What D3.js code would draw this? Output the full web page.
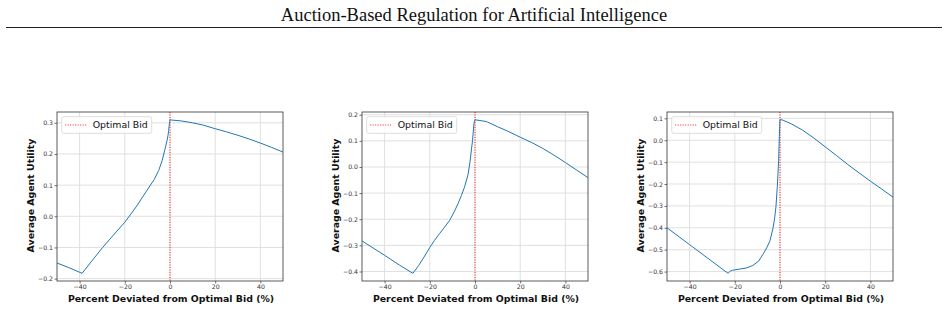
<!DOCTYPE html>
<html>
<head>
<meta charset="utf-8">
<script src="https://cdn.jsdelivr.net/npm/d3@7"></script>
<style>
  body { margin: 0; background: #fff; }
  svg { display: block; }
</style>
</head>
<body>
<svg id="chart" width="948" height="310"></svg>
<script>
const pageTitle = "Auction-Based Regulation for Artificial Intelligence";
const xLabel = "Percent Deviated from Optimal Bid (%)";
const yLabel = "Average Agent Utility";
const legendLabel = "Optimal Bid";
const xTicks = [-40, -20, 0, 20, 40];

// panel 1
const devA = [-50, -45, -38.9, -35, -29.8, -25, -20, -15, -10.2, -7, -5, -3.5, -2.4, -1.8, -1.3, -0.9, -0.6, -0.3, -0.1, 0, 0.5, 5, 10, 15, 20, 25, 30, 35, 40, 45, 50];
const utilA = [-0.150, -0.164, -0.183, -0.147, -0.100, -0.060, -0.019, 0.030, 0.083, 0.118, 0.147, 0.178, 0.210, 0.228, 0.243, 0.258, 0.275, 0.295, 0.305, 0.310, 0.309, 0.306, 0.300, 0.292, 0.281, 0.271, 0.260, 0.248, 0.235, 0.221, 0.206];
const yTicksA = [-0.2, -0.1, 0.0, 0.1, 0.2, 0.3];

// panel 2
const devB = [-50, -40, -33.5, -27.5, -25, -22, -20, -18, -15.7, -13.5, -11.2, -9, -7.5, -6, -4.6, -3.1, -2.2, -1.6, -1.1, -0.7, -0.4, -0.1, 0, 0.5, 5, 10, 15, 20, 25, 30, 35, 40, 45, 50];
const utilB = [-0.283, -0.338, -0.375, -0.407, -0.378, -0.337, -0.308, -0.282, -0.255, -0.231, -0.204, -0.168, -0.140, -0.109, -0.076, -0.030, 0.020, 0.065, 0.100, 0.142, 0.170, 0.178, 0.181, 0.180, 0.174, 0.154, 0.135, 0.114, 0.094, 0.071, 0.045, 0.017, -0.012, -0.041];
const yTicksB = [-0.4, -0.3, -0.2, -0.1, 0.0, 0.1, 0.2];

// panel 3
const devC = [-50, -40, -30, -23, -22, -21, -18, -15, -12, -9.5, -7.4, -5.8, -4.4, -3.0, -2.3, -1.8, -1.2, -0.9, -0.6, -0.3, -0.1, 0, 1, 5, 10, 15, 20, 25, 30, 35, 40, 45, 50];
const utilC = [-0.400, -0.477, -0.554, -0.608, -0.598, -0.594, -0.589, -0.584, -0.572, -0.553, -0.519, -0.490, -0.458, -0.397, -0.350, -0.305, -0.214, -0.155, -0.091, 0.016, 0.070, 0.094, 0.093, 0.075, 0.046, 0.010, -0.030, -0.070, -0.111, -0.149, -0.187, -0.223, -0.260];
const yTicksC = [-0.6, -0.5, -0.4, -0.3, -0.2, -0.1, 0.0, 0.1];

const panels = [
  { dev: devA, util: utilA, yTicks: yTicksA, left: 57 },
  { dev: devB, util: utilB, yTicks: yTicksB, left: 362 },
  { dev: devC, util: utilC, yTicks: yTicksC, left: 667 }
];

const svg = d3.select("#chart");
const plotW = 226, plotTop = 112, plotBottom = 281;

// page header
svg.append("text")
  .attr("x", 474).attr("y", 21)
  .attr("text-anchor", "middle")
  .attr("font-family", "'Liberation Serif', 'Times New Roman', serif")
  .attr("font-size", 18.5)
  .attr("fill", "#111")
  .text(pageTitle);
svg.append("line")
  .attr("x1", 6).attr("x2", 942).attr("y1", 27.5).attr("y2", 27.5)
  .attr("stroke", "#222").attr("stroke-width", 1);

panels.forEach(p => {
  const ext = d3.extent(p.util);
  const pad = (ext[1] - ext[0]) * 0.05;
  const x = d3.scaleLinear().domain([-50, 50]).range([p.left, p.left + plotW]);
  const y = d3.scaleLinear().domain([ext[0] - pad, ext[1] + pad]).range([plotBottom, plotTop]);
  const g = svg.append("g");

  // grid
  g.selectAll(".gx").data(xTicks).join("line")
    .attr("x1", d => x(d)).attr("x2", d => x(d))
    .attr("y1", plotTop).attr("y2", plotBottom)
    .attr("stroke", "#dcdcdc").attr("stroke-width", 0.9);
  g.selectAll(".gy").data(p.yTicks).join("line")
    .attr("x1", p.left).attr("x2", p.left + plotW)
    .attr("y1", d => y(d)).attr("y2", d => y(d))
    .attr("stroke", "#dcdcdc").attr("stroke-width", 0.9);

  // axes
  const xAxis = g.append("g").attr("transform", `translate(0,${plotBottom})`)
    .call(d3.axisBottom(x).tickValues(xTicks).tickFormat(d3.format("d")).tickSize(2.5).tickPadding(1.5));
  const yAxis = g.append("g").attr("transform", `translate(${p.left},0)`)
    .call(d3.axisLeft(y).tickValues(p.yTicks).tickFormat(d3.format(".1f")).tickSize(2.5).tickPadding(1.5));
  [xAxis, yAxis].forEach(a => {
    a.select(".domain").remove();
    a.selectAll("line").attr("stroke", "#333").attr("stroke-width", 0.7);
    a.selectAll("text").attr("font-family", "'DejaVu Sans', sans-serif").attr("font-size", 6.2).attr("fill", "#333");
  });

  // frame
  g.append("rect")
    .attr("x", p.left).attr("y", plotTop).attr("width", plotW).attr("height", plotBottom - plotTop)
    .attr("fill", "none").attr("stroke", "#333").attr("stroke-width", 0.8);

  // optimal bid marker
  g.append("line")
    .attr("x1", x(0)).attr("x2", x(0)).attr("y1", plotTop).attr("y2", plotBottom)
    .attr("stroke", "red").attr("stroke-width", 0.9).attr("stroke-dasharray", "1,1.5");

  // curve
  const line = d3.line().x(d => x(d[0])).y(d => y(d[1]));
  g.append("path")
    .datum(d3.zip(p.dev, p.util))
    .attr("d", line)
    .attr("fill", "none").attr("stroke", "#1f77b4").attr("stroke-width", 1);

  // legend
  const lg = g.append("g").attr("transform", `translate(${p.left + 4.7},${plotTop + 4.7})`);
  lg.append("rect")
    .attr("width", 90).attr("height", 16.6).attr("rx", 2)
    .attr("fill", "#fff").attr("fill-opacity", 0.85)
    .attr("stroke", "#d6d6d6").attr("stroke-width", 0.8);
  lg.append("line")
    .attr("x1", 3.5).attr("x2", 25).attr("y1", 8.3).attr("y2", 8.3)
    .attr("stroke", "red").attr("stroke-width", 0.9).attr("stroke-dasharray", "1,1.5");
  lg.append("text")
    .attr("x", 31).attr("y", 11.6)
    .attr("font-family", "'DejaVu Sans', sans-serif").attr("font-size", 9.4)
    .attr("fill", "#111")
    .text(legendLabel);

  // axis titles
  g.append("text")
    .attr("x", p.left + plotW / 2 + 1).attr("y", 301.5)
    .attr("text-anchor", "middle")
    .attr("font-family", "'DejaVu Sans', sans-serif").attr("font-weight", "bold").attr("font-size", 9.4)
    .attr("fill", "#111")
    .text(xLabel);
  g.append("text")
    .attr("transform", `translate(${p.left - 23},${(plotTop + plotBottom) / 2 - 1}) rotate(-90)`)
    .attr("text-anchor", "middle")
    .attr("font-family", "'DejaVu Sans', sans-serif").attr("font-weight", "bold").attr("font-size", 9.4)
    .attr("fill", "#111")
    .text(yLabel);
});
</script>
</body>
</html>
